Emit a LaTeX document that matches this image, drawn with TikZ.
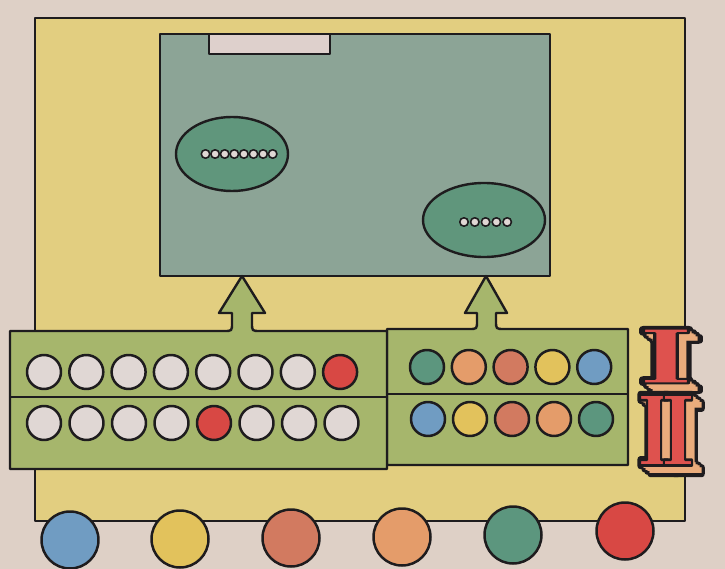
\documentclass[tikz,border=0pt]{standalone}
\usepackage{fontspec}
\newfontfamily\romanserif{DejaVu Serif}
\usetikzlibrary{shapes.geometric}
\definecolor{bgc}{RGB}{222,208,198}
\definecolor{yellowc}{RGB}{226,206,128}
\definecolor{screenc}{RGB}{140,164,150}
\definecolor{slotc}{RGB}{222,208,204}
\definecolor{ovalc}{RGB}{96,150,124}
\definecolor{panelc}{RGB}{166,182,108}
\definecolor{lightc}{RGB}{224,215,212}
\definecolor{redc}{RGB}{216,72,68}
\definecolor{orangec}{RGB}{228,156,106}
\definecolor{salmonc}{RGB}{210,122,96}
\definecolor{yelc}{RGB}{226,194,92}
\definecolor{bluec}{RGB}{112,156,194}
\definecolor{tealc}{RGB}{92,150,126}
\definecolor{romanred}{RGB}{222,82,78}
\definecolor{romanside}{RGB}{234,172,124}
\definecolor{inkc}{RGB}{30,28,30}
\tikzset{
  outl/.style={draw=inkc, line width=2.4pt},
  bead/.style={circle, draw=inkc, line width=2.5pt, minimum size=34pt, inner sep=0},
  wheel/.style={circle, draw=inkc, line width=2.5pt, minimum size=57pt, inner sep=0},
  dot/.style={circle, draw=inkc, line width=1.6pt, fill=lightc, minimum size=8.5pt, inner sep=0},
  oval/.style={ellipse, draw=inkc, line width=2.4pt, fill=ovalc, inner sep=0},
  romanfont/.style={font=\fontsize{75}{75}\selectfont\romanserif\bfseries, inner sep=0, anchor=center}
}
\newcommand\strokeon[1]{\special{pdf:literal direct 2 Tr #1 w 0.12 0.11 0.12 RG}}
\newcommand\strokeoff{\special{pdf:literal direct 0 Tr}}
\newcommand\romanlabel[4]{%
  \foreach \k in {10,7,4,0}{
    \node[romanfont, text=inkc, xshift={\k*1pt}, yshift={-\k*0.8pt}] (#1x\k) at (#2,#3) {\strokeon{5.5}#4\strokeoff};}
  \foreach \k in {10,8,6,4,2}{
    \node[romanfont, text=romanside, xshift={\k*1pt}, yshift={-\k*0.8pt}] (#1s\k) at (#2,#3) {#4};}
  \node[romanfont, text=romanred] (#1) at (#2,#3) {\strokeon{2}#4\strokeoff};
}
\begin{document}
\begin{tikzpicture}[x=1pt,y=-1pt,line join=round]
\fill[bgc] (0,0) rectangle (725,569);
\useasboundingbox (0,0) rectangle (725,569);
% cabinet
\draw[outl, fill=yellowc] (35,18) rectangle (685,521);
% screen
\draw[outl, fill=screenc] (160,34) rectangle (550,276);
\draw[outl, fill=slotc] (209,34) rectangle (330,54);
% ovals
\node[oval, minimum width=112pt, minimum height=74pt] (ovalL) at (232,154) {};
\node[oval, minimum width=122pt, minimum height=74pt] (ovalR) at (484,220) {};
\foreach \i in {0,...,7}{ \node[dot] (dl\i) at (205.5+\i*9.6,154) {}; }
\foreach \i in {0,...,4}{ \node[dot] (dr\i) at (464+\i*10.8,222) {}; }
% right panel with arrow
\draw[outl, fill=panelc] (387,329) -- (469,329) .. controls (477,329) .. (477,321) -- (477,313) -- (465,313) -- (486,276) -- (507,313) -- (496,313) -- (496,321) .. controls (496,329) .. (504,329) -- (628,329) -- (628,465) -- (387,465) -- cycle;
% left panel with arrow
\draw[outl, fill=panelc] (10,331) -- (224,331) .. controls (232,331) .. (232,323) -- (232,313) -- (219,313) -- (242,276) -- (265,313) -- (252,313) -- (252,323) .. controls (252,331) .. (260,331) -- (387,331) -- (387,469) -- (10,469) -- cycle;
\draw[outl] (10,397) -- (387,397);
\draw[outl] (387,394) -- (628,394);
% left panel beads
\foreach \i/\c in {0/lightc,1/lightc,2/lightc,3/lightc,4/lightc,5/lightc,6/lightc,7/redc}{
  \node[bead, fill=\c] (la\i) at (44+\i*42.3,372) {}; }
\foreach \i/\c in {0/lightc,1/lightc,2/lightc,3/lightc,4/redc,5/lightc,6/lightc,7/lightc}{
  \node[bead, fill=\c] (lb\i) at (44+\i*42.5,423) {}; }
% right panel beads
\foreach \i/\c in {0/tealc,1/orangec,2/salmonc,3/yelc,4/bluec}{
  \node[bead, fill=\c] (ra\i) at (427+\i*41.8,367) {}; }
\foreach \i/\c in {0/bluec,1/yelc,2/salmonc,3/orangec,4/tealc}{
  \node[bead, fill=\c] (rb\i) at (428+\i*42,419) {}; }
% wheels
\node[wheel, fill=bluec] (w1) at (70,540) {};
\node[wheel, fill=yelc] (w2) at (180,539) {};
\node[wheel, fill=salmonc] (w3) at (291,538) {};
\node[wheel, fill=orangec] (w4) at (402,537) {};
\node[wheel, fill=tealc] (w5) at (513,535) {};
\node[wheel, fill=redc] (w6) at (625,531) {};
% roman numerals
\romanlabel{romI}{666}{356}{\scalebox{1.6}[1]{I}}
\romanlabel{romII}{666}{430}{\scalebox{1.0}[1.3]{I\kern-0.15em I}}
\end{tikzpicture}
\end{document}
